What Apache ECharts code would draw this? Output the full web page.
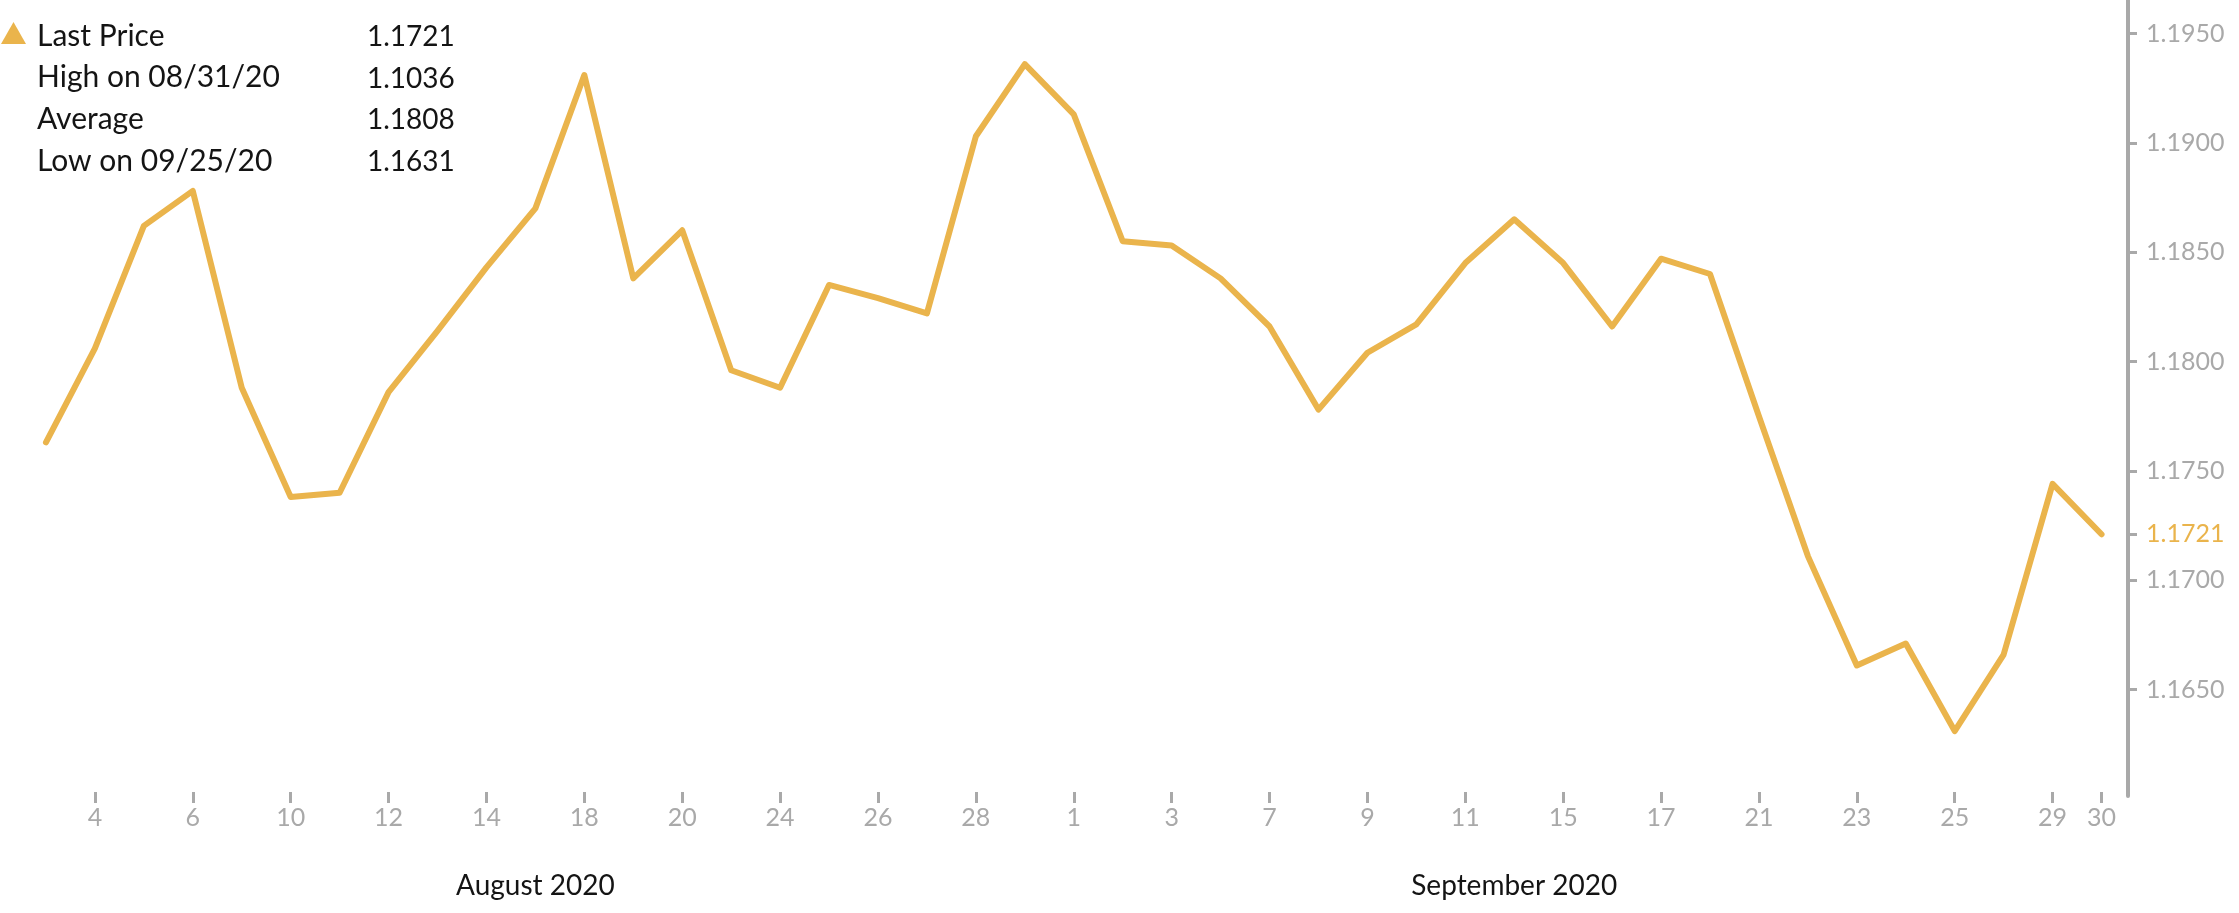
<!DOCTYPE html>
<html>
<head>
<meta charset="utf-8">
<script src="https://cdn.jsdelivr.net/npm/echarts@6/dist/echarts.min.js"></script>
<style>
  html, body { margin: 0; padding: 0; background: #fff; }
  #chart { width: 2239px; height: 913px; }
</style>
</head>
<body>
<div id="chart"></div>
<script>
// ---------- data ----------
const categories = [
  '2020-08-03','2020-08-04','2020-08-05','2020-08-06','2020-08-07',
  '2020-08-10','2020-08-11','2020-08-12','2020-08-13','2020-08-14',
  '2020-08-17','2020-08-18','2020-08-19','2020-08-20','2020-08-21',
  '2020-08-24','2020-08-25','2020-08-26','2020-08-27','2020-08-28',
  '2020-08-31','2020-09-01','2020-09-02','2020-09-03','2020-09-04',
  '2020-09-07','2020-09-08','2020-09-09','2020-09-10','2020-09-11',
  '2020-09-14','2020-09-15','2020-09-16','2020-09-17','2020-09-18',
  '2020-09-21','2020-09-22','2020-09-23','2020-09-24','2020-09-25',
  '2020-09-28','2020-09-29','2020-09-30'
];
const prices = [
  1.1763, 1.1806, 1.1862, 1.1878, 1.1788,
  1.1738, 1.1740, 1.1786, 1.1814, 1.1843,
  1.1870, 1.1931, 1.1838, 1.1860, 1.1796,
  1.1788, 1.1835, 1.1829, 1.1822, 1.1903,
  1.1936, 1.1913, 1.1855, 1.1853, 1.1838,
  1.1816, 1.1778, 1.1804, 1.1817, 1.1845,
  1.1865, 1.1845, 1.1816, 1.1847, 1.1840,
  1.1775, 1.1711, 1.1661, 1.1671, 1.1631,
  1.1666, 1.1744, 1.1721
];
// x-axis tick labels (dates that carry a tick + day label)
const tickDates = [
  '2020-08-04','2020-08-06','2020-08-10','2020-08-12','2020-08-14',
  '2020-08-18','2020-08-20','2020-08-24','2020-08-26','2020-08-28',
  '2020-09-01','2020-09-03','2020-09-07','2020-09-09','2020-09-11',
  '2020-09-15','2020-09-17','2020-09-21','2020-09-23','2020-09-25',
  '2020-09-29','2020-09-30'
];
// month captions and the dates they sit under
const monthNames = ['August 2020', 'September 2020'];
const monthDates = ['2020-08-17', '2020-09-14'];
// y-axis tick labels
const yTicks = [1.1650, 1.1700, 1.1721, 1.1750, 1.1800, 1.1850, 1.1900, 1.1950];
const yMin = 1.16013;
const yMax = 1.19653;
const lastPrice = 1.1721;
// summary box
const summaryLabels = ['Last Price', 'High on 08/31/20', 'Average', 'Low on 09/25/20'];
const summaryValues = ['1.1721', '1.1036', '1.1808', '1.1631'];

// ---------- styles ----------
const ORANGE = '#EAB44C';
const GREY = '#a9a9a9';
const FONT = 'Lato, "Noto Sans", sans-serif';

const chart = echarts.init(document.getElementById('chart'), null, { renderer: 'canvas' });

const tickSet = new Set(tickDates);
const monthMap = {};
monthDates.forEach((d, i) => { monthMap[d] = monthNames[i]; });

const summaryGraphics = [];
summaryGraphics.push({
  type: 'polygon',
  shape: { points: [[1, 44], [13.5, 22], [26, 44]] },
  style: { fill: ORANGE }
});
summaryLabels.forEach((lab, i) => {
  const y = 35 + i * 41.7;
  summaryGraphics.push({
    type: 'text', left: 37, top: y - 14,
    style: { text: lab, fill: '#141414', font: '30px ' + FONT, textVerticalAlign: 'top' }
  });
  summaryGraphics.push({
    type: 'text', left: 367, top: y - 12,
    style: { text: summaryValues[i], fill: '#141414', font: '28px ' + FONT, textVerticalAlign: 'top' }
  });
});

const option = {
  backgroundColor: '#ffffff',
  animation: false,
  grid: { left: 21.5, right: 113, top: 0, bottom: 117, containLabel: false },
  xAxis: [
    {
      type: 'category',
      data: categories,
      boundaryGap: true,
      offset: -4,
      axisLine: { show: false },
      axisTick: {
        show: true, alignWithLabel: true, length: 11,
        interval: (idx, val) => tickSet.has(val),
        lineStyle: { color: GREY, width: 3 }
      },
      axisLabel: {
        interval: (idx, val) => tickSet.has(val),
        formatter: (val) => String(parseInt(val.slice(8), 10)),
        color: GREY, fontFamily: FONT, fontSize: 25, margin: 13
      },
      splitLine: { show: false }
    },
    {
      type: 'category',
      data: categories,
      position: 'bottom',
      boundaryGap: true,
      offset: 68,
      axisLine: { show: false },
      axisTick: { show: false },
      axisLabel: {
        interval: (idx, val) => monthMap[val] !== undefined,
        formatter: (val) => monthMap[val] || '',
        color: '#141414', fontFamily: FONT, fontSize: 28, margin: 8
      },
      splitLine: { show: false }
    }
  ],
  yAxis: {
    type: 'value',
    position: 'right',
    min: yMin, max: yMax,
    offset: 2,
    axisLine: { show: true, lineStyle: { color: GREY, width: 4 } },
    axisTick: {
      show: true, length: 9, inside: false,
      customValues: yTicks,
      lineStyle: { color: GREY, width: 3 }
    },
    axisLabel: {
      customValues: yTicks,
      formatter: (v) => Number(v).toFixed(4),
      color: (v) => Math.abs(Number(v) - lastPrice) < 1e-7 ? ORANGE : GREY,
      fontFamily: FONT, fontSize: 25, margin: 18
    },
    splitLine: { show: false }
  },
  series: [{
    type: 'line',
    data: prices,
    xAxisIndex: 0,
    showSymbol: false,
    symbol: 'none',
    lineStyle: { color: ORANGE, width: 6, cap: 'round', join: 'round' },
    itemStyle: { color: ORANGE }
  }],
  graphic: summaryGraphics
};
chart.setOption(option);
</script>
</body>
</html>
